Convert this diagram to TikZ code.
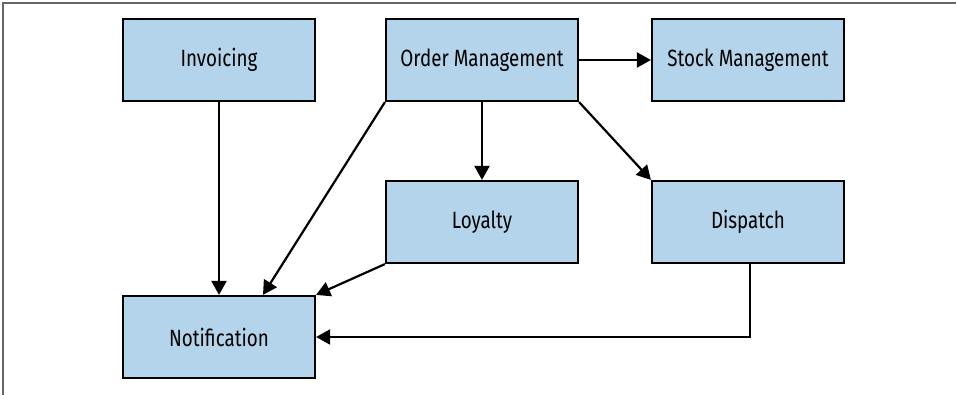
\documentclass[tikz,border=0pt]{standalone}
\usepackage{fontspec}
\setmainfont{Fira Sans}[FakeStretch=0.8]
\usetikzlibrary{arrows.meta}
\definecolor{boxblue}{RGB}{179,212,234}
\begin{document}
\begin{tikzpicture}[x=1pt,y=-1pt,
  svc/.style={draw,line width=2.2pt,fill=boxblue,minimum width=192pt,minimum height=82pt,font=\fontsize{23.5}{26}\selectfont},
  flow/.style={line width=2.2pt,-{Triangle[length=14pt,width=15pt]}}]
\useasboundingbox (0,0) rectangle (956,395);
\draw[black!60,line width=1.5pt] (3,395)--(3,3)--(956,3);
\node[svc] (inv) at (219,60) {Invoicing};
\node[svc] (ord) at (482,60) {Order Management};
\node[svc] (stock) at (748,60) {Stock Management};
\node[svc] (loy) at (482,222) {Loyalty};
\node[svc] (disp) at (748,222) {Dispatch};
\node[svc] (notif) at (219,337) {Notification};
\draw[flow] (inv) -- (notif);
\draw[flow] (ord) -- (stock);
\draw[flow] (ord) -- (loy);
\draw[flow] (ord.south east) -- (disp.north west);
\draw[flow] (ord.south west) -- ([xshift=44pt]notif.north);
\draw[flow] (loy.south west) -- (notif.north east);
\draw[flow] ([xshift=2pt]disp.south) |- (notif.east);
\end{tikzpicture}
\end{document}
